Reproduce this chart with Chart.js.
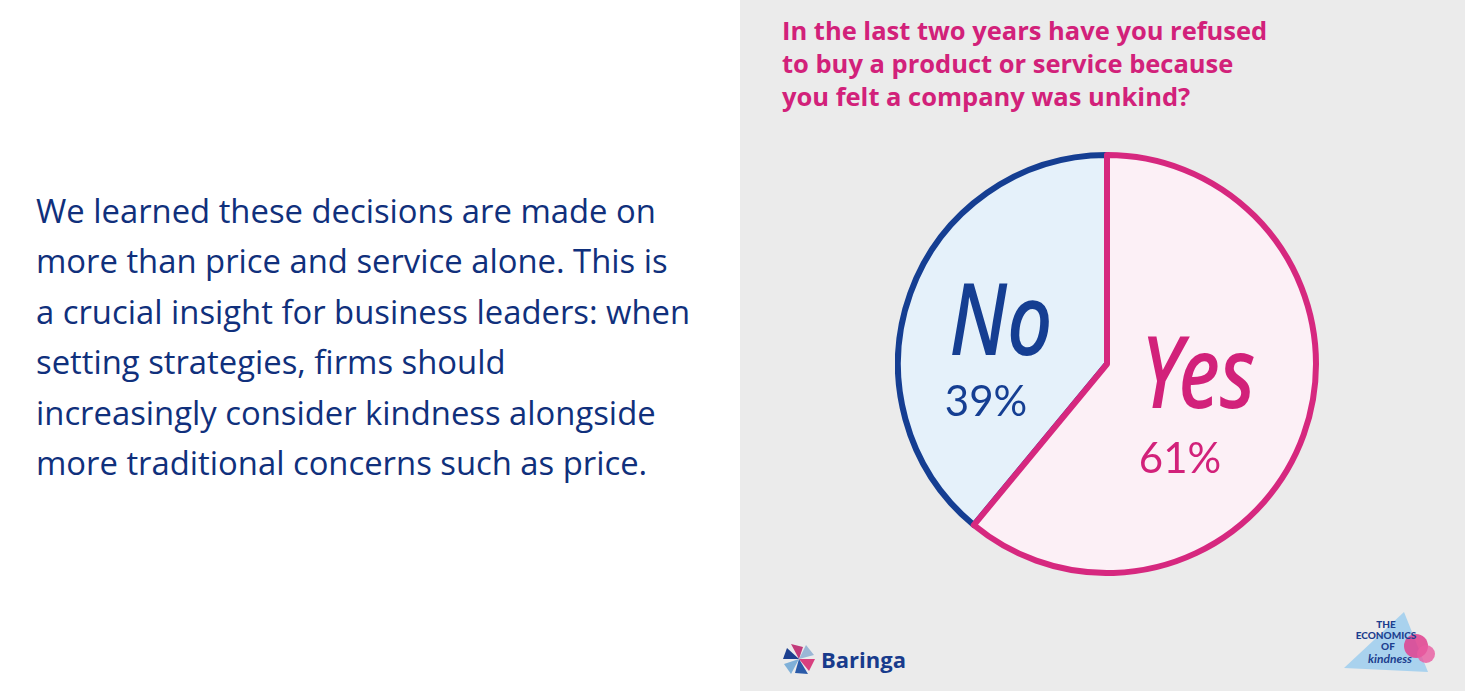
<!DOCTYPE html>
<html>
<head>
<meta charset="utf-8">
<script src="https://cdn.jsdelivr.net/npm/chart.js@4.4.1/dist/chart.umd.min.js"></script>
<style>
  html, body { margin: 0; padding: 0; width: 1465px; height: 691px; overflow: hidden; background: #fff; font-family: "Open Sans", Lato, sans-serif; }
  #copy { position: absolute; left: 36px; top: 186px; width: 700px; color: #10307c; font-size: 32.8px; line-height: 50.4px; }
  #copy div { white-space: nowrap; }
  #panel { position: absolute; left: 740px; top: 0; width: 725px; height: 691px; background: #ebebeb; }
  #title { position: absolute; left: 782px; top: 14px; color: #d2217a; font-weight: 700; font-size: 25.5px; line-height: 33px; }
  #title div { white-space: nowrap; }
  #pie-wrap { position: absolute; left: 895px; top: 152px; width: 424px; height: 424px; }
  #baringa { position: absolute; left: 782px; top: 642px; height: 34px; display: flex; align-items: center; }
  #baringa span { color: #183b8c; font-weight: 700; font-size: 22px; margin-left: 5px; }
  #eok { position: absolute; left: 1336px; top: 606px; }
</style>
</head>
<body>
<div id="copy">
  <div>We learned these decisions are made on</div>
  <div>more than price and service alone. This is</div>
  <div>a crucial insight for business leaders: when</div>
  <div>setting strategies, firms should</div>
  <div>increasingly consider kindness alongside</div>
  <div>more traditional concerns such as price.</div>
</div>

<div id="panel"></div>
<div id="title">
  <div>In the last two years have you refused</div>
  <div>to buy a product or service because</div>
  <div>you felt a company was unkind?</div>
</div>

<div id="pie-wrap"><canvas id="pieChart"></canvas></div>

<div id="baringa">
  <svg width="34" height="34" viewBox="0 0 34 34">
    <polygon points="17,17 9,2 21,5" fill="#c23a7a"/>
    <polygon points="17,17 24,3 32,13" fill="#9ab7d6"/>
    <polygon points="17,17 33,17 27,29" fill="#d8407f"/>
    <polygon points="17,17 26,32 13,31" fill="#2a5aa8"/>
    <polygon points="17,17 9,32 2,22" fill="#7fb0d8"/>
    <polygon points="17,17 1,17 5,6" fill="#1c3f8f"/>
  </svg>
  <span>Baringa</span>
</div>

<div id="eok">
  <svg width="110" height="75" viewBox="0 0 110 75">
    <polygon points="8,62 68,6 92,66" fill="#a9d2ee"/>
    <circle cx="80" cy="40" r="12" fill="#e0408e" opacity="0.85"/>
    <circle cx="90" cy="48" r="9" fill="#e85aa0" opacity="0.8"/>
    <text x="50" y="22" font-family="Lato" font-weight="900" font-size="10" fill="#1d3f8f" text-anchor="middle">THE</text>
    <text x="50" y="33" font-family="Lato" font-weight="900" font-size="10" fill="#1d3f8f" text-anchor="middle">ECONOMICS</text>
    <text x="52" y="44" font-family="Lato" font-weight="900" font-size="10" fill="#1d3f8f" text-anchor="middle">OF</text>
    <text x="54" y="57" font-family="Lato" font-style="italic" font-weight="700" font-size="12" fill="#1d3f8f" text-anchor="middle">kindness</text>
  </svg>
</div>

<script>
// Survey answers
const categories = ['No', 'Yes'];
const values = [39, 61];
const fillColors = ['#e5f1fa', '#fcf0f6'];
const lineColors = ['#153e92', '#d6287f'];
const textColors = ['#153e92', '#d2217a'];

const total = values.reduce((a, b) => a + b, 0);

// handwritten-style labels inside each slice
const sliceLabels = {
    id: 'sliceLabels',
    afterDatasetsDraw(chart) {
        const ctx = chart.ctx;
        const arcs = chart.getDatasetMeta(0).data;
        // offsets from the pie centre for name / percentage
        const spots = {
            No:  { name: [-106, -37], pct: [-121, 38] },
            Yes: { name: [91, 16], pct: [73, 95] }
        };
        arcs.forEach((arc, i) => {
            const cat = categories[i];
            const s = spots[cat];
            ctx.save();
            ctx.fillStyle = textColors[i];
            ctx.textAlign = 'center';
            ctx.textBaseline = 'middle';
            ctx.save();
            ctx.translate(arc.x + s.name[0], arc.y + s.name[1]);
            ctx.scale(0.8, 1);
            ctx.font = 'italic 500 100px "Noto Sans"';
            ctx.fillText(cat, 0, 0);
            ctx.restore();
            ctx.font = '400 42px Lato';
            ctx.fillText(values[i] + '%', arc.x + s.pct[0], arc.y + s.pct[1]);
            ctx.restore();
        });
    }
};

new Chart(document.getElementById('pieChart'), {
    type: 'pie',
    data: {
        labels: categories,
        datasets: [{
            data: values,
            backgroundColor: fillColors,
            borderColor: lineColors,
            borderWidth: 6,
            borderJoinStyle: 'round'
        }]
    },
    options: {
        responsive: true,
        maintainAspectRatio: false,
        animation: false,
        rotation: -values[0] / total * 360,
        plugins: {
            legend: { display: false },
            tooltip: { enabled: false }
        }
    },
    plugins: [sliceLabels]
});
</script>
</body>
</html>
